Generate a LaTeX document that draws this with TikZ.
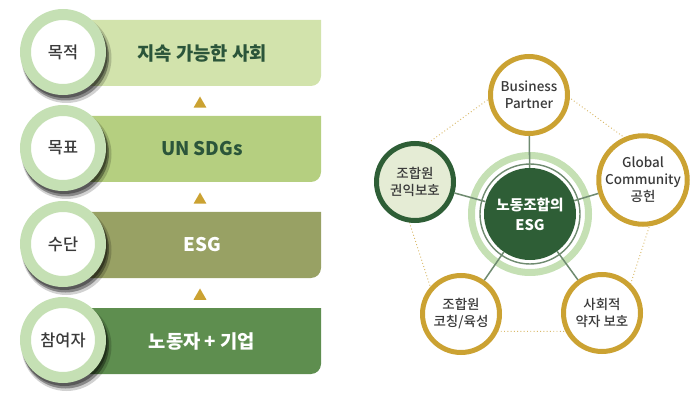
\documentclass[tikz,border=0pt]{standalone}
\usepackage{fontspec}
\setmainfont{Noto Sans CJK KR}
\newfontfamily\medfont{Noto Sans CJK KR}[UprightFont=* Medium]
\usetikzlibrary{shapes.geometric}

\definecolor{barA}{HTML}{D2E3AC}
\definecolor{barB}{HTML}{B5CF80}
\definecolor{barC}{HTML}{98A164}
\definecolor{barD}{HTML}{5E8E4F}
\definecolor{ringgreen}{HTML}{C5E0B4}
\definecolor{textgreen}{HTML}{2B553A}
\definecolor{labelgray}{HTML}{3A3A3A}
\definecolor{gold}{HTML}{CBA232}
\definecolor{dotgold}{HTML}{D9B96A}
\definecolor{hubgreen}{HTML}{2E5E36}
\definecolor{palegreen}{HTML}{E5ECD5}
\definecolor{spokegray}{HTML}{6F8B70}

\tikzset{
    tag/.style={circle, fill=white, draw=ringgreen, line width=0.33cm, minimum size=2.25cm, inner sep=0pt, text=labelgray, font=\medfont\fontsize{14}{16}\selectfont},
    bartext/.style={font=\bfseries\fontsize{16}{19}\selectfont},
    uptri/.style={regular polygon, regular polygon sides=3, fill=gold, minimum size=0.45cm, inner sep=0pt},
    spot/.style={circle, draw=gold, line width=0.15cm, fill=white, minimum size=2.31cm, inner sep=0pt, align=center, text=labelgray, font=\medfont\fontsize{11.5}{14.5}\selectfont},
    hub/.style={circle, fill=hubgreen, minimum size=2.76cm, inner sep=0pt, align=center, text=white, font=\bfseries\fontsize{12.5}{17}\selectfont},
    spoke/.style={spokegray, line width=1.3pt},
    shade/.style={fill=black, opacity=0.35},
}

\begin{document}
\begin{tikzpicture}[x=0.03cm, y=-0.03cm]
    \useasboundingbox (0,0) rectangle (700,400);

    % bars
    \fill[barA] (90,20) -- (321,20) -- (321,76) arc[start angle=0, end angle=90, radius=10] -- (90,86) -- cycle;
    \fill[barB] (90,116) -- (321,116) -- (321,172) arc[start angle=0, end angle=90, radius=10] -- (90,182) -- cycle;
    \fill[barC] (90,212) -- (321,212) -- (321,268) arc[start angle=0, end angle=90, radius=10] -- (90,278) -- cycle;
    \fill[barD] (90,308) -- (321,308) -- (321,364) arc[start angle=0, end angle=90, radius=10] -- (90,374) -- cycle;

    \node[bartext, text=textgreen] (goal) at (202,53) {지속 가능한 사회};
    \node[bartext, text=textgreen] (target) at (202,149) {UN SDGs};
    \node[bartext, text=white] (means) at (202,245) {ESG};
    \node[bartext, text=white] (actor) at (202,341) {노동자 + 기업};

    \node[uptri] (up1) at (200,104) {};
    \node[uptri] (up2) at (200,200) {};
    \node[uptri] (up3) at (200,296) {};

    % circles with shadow
    \fill[black, opacity=0.18] (66.5,58) circle (45);
    \fill[shade] (65.5,57) circle (43.5);
    \fill[shade] (64.5,55) circle (43);
    \node[tag] (tag1) at (63,52) {목적};
    \fill[black, opacity=0.18] (66.5,154) circle (45);
    \fill[shade] (65.5,153) circle (43.5);
    \fill[shade] (64.5,151) circle (43);
    \node[tag] (tag2) at (63,148) {목표};
    \fill[black, opacity=0.18] (66.5,250) circle (45);
    \fill[shade] (65.5,249) circle (43.5);
    \fill[shade] (64.5,247) circle (43);
    \node[tag] (tag3) at (63,244) {수단};
    \fill[black, opacity=0.18] (66.5,346) circle (45);
    \fill[shade] (65.5,345) circle (43.5);
    \fill[shade] (64.5,343) circle (43);
    \node[tag] (tag4) at (63,340) {참여자};

    % right side
    \coordinate (c) at (530,214);
    \node[regular polygon, regular polygon sides=5, minimum size=8.7cm, draw=dotgold, line width=0.8pt, dotted] (penta) at (c) {};
    \draw[ringgreen, line width=0.21cm] (c) circle (58.5);
    \draw[spokegray, line width=1.2pt] (c) circle (50);

    \node[hub] (hubnode) at (c) {노동조합의\\ESG};
    \node[spot] (bp) at (529,95) {Business\\Partner};
    \node[spot] (gc) at (643,180) {Global\\Community\\공헌};
    \node[spot] (weak) at (602,313) {사회적\\약자 보호};
    \node[spot] (coach) at (461,314) {조합원\\코칭/육성};
    \node[spot, draw=hubgreen, fill=palegreen] (rights) at (415,182) {조합원\\권익보호};

    \draw[spoke] (hubnode) -- (bp);
    \draw[spoke] (hubnode) -- (gc);
    \draw[spoke] (hubnode) -- (weak);
    \draw[spoke] (hubnode) -- (coach);
    \draw[spoke] (hubnode) -- (rights);
\end{tikzpicture}
\end{document}
